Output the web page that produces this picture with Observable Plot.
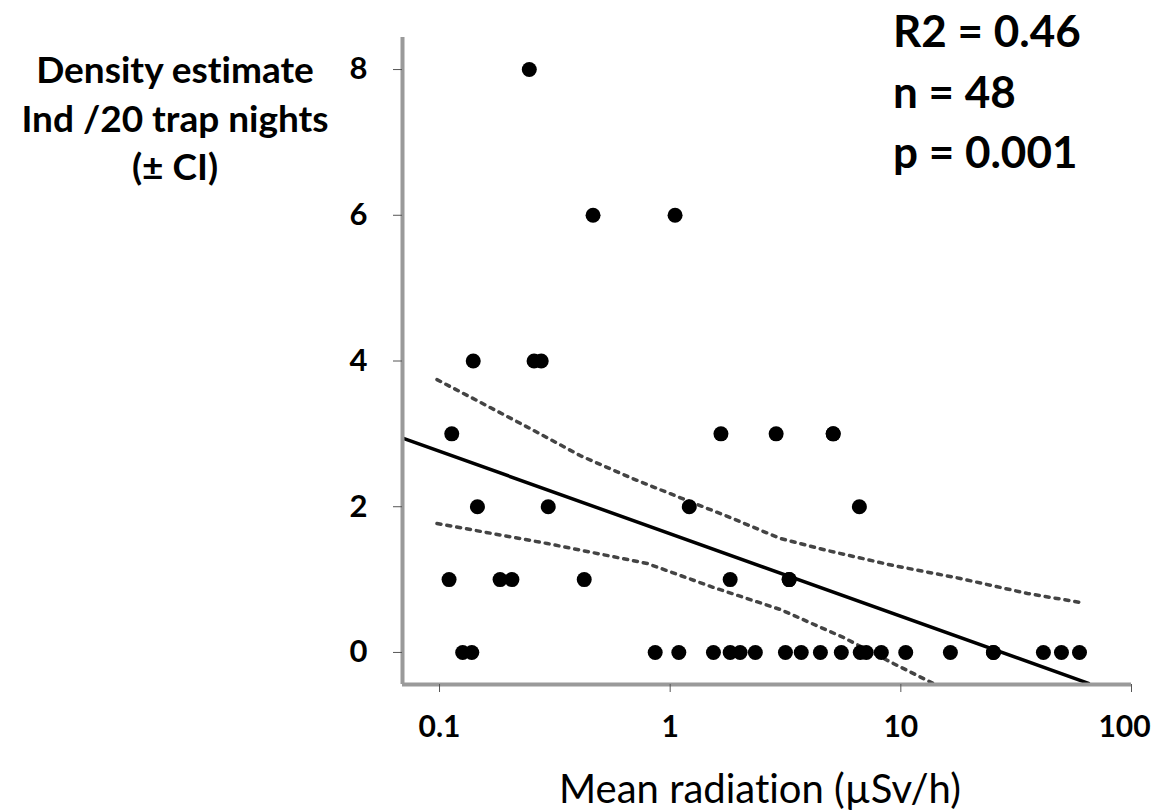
<!DOCTYPE html>
<html>
<head>
<meta charset="utf-8">
<script src="https://cdn.jsdelivr.net/npm/d3@7"></script>
<script src="https://cdn.jsdelivr.net/npm/@observablehq/plot@0.6"></script>
<style>
  html, body { margin: 0; padding: 0; background: white; overflow: hidden; }
  svg text { font-variant-ligatures: none; font-feature-settings: "liga" 0; }
</style>
</head>
<body>
<div id="chart"></div>
<script>
// Observed points: mean radiation (µSv/h) and density estimate
const radiation = [
  0.245,
  0.463, 1.05,
  0.140, 0.257, 0.276,
  0.113, 1.66, 2.88, 5.09, 5.09,
  0.146, 0.296, 1.21, 6.61,
  0.110, 0.183, 0.206, 0.424, 1.82, 3.28, 3.28,
  0.126, 0.138, 0.861, 1.09, 1.54, 1.82, 2.01, 2.34, 3.16, 3.70, 4.48, 5.52,
  6.67, 7.08, 8.23, 10.5, 16.4, 25.2, 25.2, 41.5, 49.7, 59.5
];
const density = [
  8,
  6, 6,
  4, 4, 4,
  3, 3, 3, 3, 3,
  2, 2, 2, 2,
  1, 1, 1, 1, 1, 1, 1,
  0, 0, 0, 0, 0, 0, 0, 0, 0, 0, 0, 0,
  0, 0, 0, 0, 0, 0, 0, 0, 0, 0
];

// Fitted regression line
const fitX = [0.0702, 65.1];
const fitY = [2.935, -0.425];

// Upper confidence band
const upperX = [0.0975, 0.166, 0.247, 0.407, 0.670, 1.10, 1.82, 3.00, 4.80, 9.27, 18.1, 35.4, 60.1];
const upperY = [3.745, 3.361, 3.073, 2.702, 2.401, 2.126, 1.852, 1.564, 1.399, 1.193, 1.015, 0.809, 0.686];

// Lower confidence band
const lowerX = [0.0975, 0.293, 0.795, 1.54, 3.00, 5.63, 9.27, 13.8];
const lowerY = [1.770, 1.495, 1.221, 0.892, 0.590, 0.206, -0.151, -0.425];

// Axis ticks
const xTicks = [0.1, 1, 10, 100];
const xTickLabels = ["0.1", "1", "10", "100"];
const yTicks = [0, 2, 4, 6, 8];

// Text
const yLabelLines = ["Density estimate", "Ind /20 trap nights", "(± CI)"];
const xLabel = "Mean radiation (µSv/h)";
const statLines = ["R2 = 0.46", "n = 48", "p = 0.001"];

const xDomain = [0.0691, 100];
const yDomain = [-0.44, 8.44];

const points = radiation.map((x, i) => ({x, y: density[i]}));
const fit = fitX.map((x, i) => ({x, y: fitY[i]}));
const upper = upperX.map((x, i) => ({x, y: upperY[i]}));
const lower = lowerX.map((x, i) => ({x, y: lowerY[i]}));

const chart = Plot.plot({
  width: 1151,
  height: 811,
  marginLeft: 402,
  marginRight: 20,
  marginTop: 37,
  marginBottom: 127,
  style: {fontFamily: "Lato", background: "white", overflow: "visible"},
  x: {type: "log", domain: xDomain},
  y: {domain: yDomain},
  marks: [
    Plot.line(upper, {x: "x", y: "y", stroke: "#444", strokeWidth: 3.5, strokeDasharray: "4 6"}),
    Plot.line(lower, {x: "x", y: "y", stroke: "#444", strokeWidth: 3.5, strokeDasharray: "4 6"}),
    Plot.line(fit, {x: "x", y: "y", stroke: "black", strokeWidth: 3.5}),
    Plot.dot(points, {x: "x", y: "y", r: 7.5, fill: "black", stroke: "none"}),
    Plot.ruleX([xDomain[0]], {stroke: "#9a9a9a", strokeWidth: 4}),
    Plot.ruleY([yDomain[0]], {stroke: "#9a9a9a", strokeWidth: 4}),
    Plot.axisX({
      ticks: xTicks,
      tickFormat: d => xTickLabels[xTicks.indexOf(d)],
      tickSize: 8,
      tickPadding: 23,
      stroke: "#555",
      fill: "black",
      fontSize: 30,
      fontWeight: "bold",
      label: null
    }),
    Plot.axisY({
      ticks: yTicks,
      tickFormat: d => String(d),
      tickSize: 9,
      tickPadding: 26,
      stroke: "#555",
      fill: "black",
      fontSize: 31,
      fontWeight: "bold",
      label: null
    })
  ]
});

document.getElementById("chart").appendChild(chart);

const svg = d3.select(chart);
// nudge the last x tick label so it stays inside the picture, as in the reference
svg.selectAll("text").filter(function() { return this.textContent === "100"; })
  .attr("dx", -7);

const yLabelBaselines = [83, 132, 180];
yLabelLines.forEach((t, i) => {
  svg.append("text")
    .attr("x", 175).attr("y", yLabelBaselines[i])
    .attr("text-anchor", "middle")
    .attr("font-family", "Lato").attr("font-weight", "bold").attr("font-size", 37)
    .attr("fill", "black")
    .text(t);
});
const statBaselines = [47, 108, 168];
statLines.forEach((t, i) => {
  svg.append("text")
    .attr("x", 893).attr("y", statBaselines[i])
    .attr("text-anchor", "start")
    .attr("font-family", "Lato").attr("font-weight", "bold").attr("font-size", 44)
    .attr("fill", "black")
    .text(t);
});
svg.append("text")
  .attr("x", 760).attr("y", 803)
  .attr("text-anchor", "middle")
  .attr("font-family", "Lato").attr("font-size", 40)
  .attr("fill", "black")
  .text(xLabel);
</script>
</body>
</html>
